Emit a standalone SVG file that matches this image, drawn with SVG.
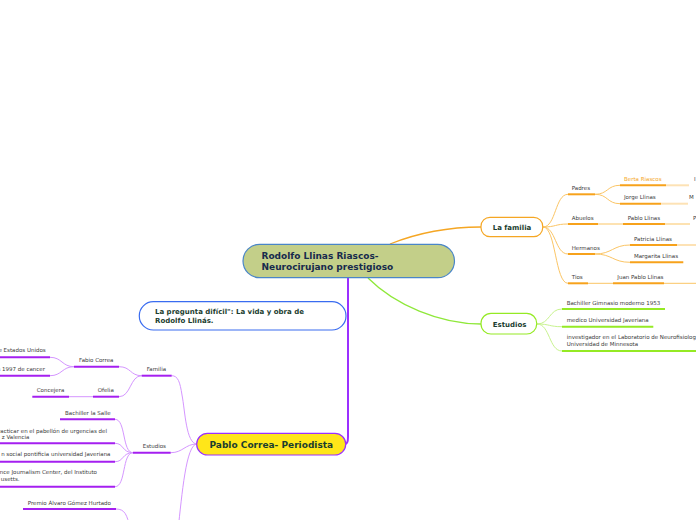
<svg xmlns="http://www.w3.org/2000/svg" width="696" height="520" viewBox="0 0 696 520">
<style>
.lbl{font-family:"DejaVu Sans",Verdana,sans-serif;font-size:5.5px;fill:#3a3a3a}
.bt{font-family:"DejaVu Sans",Verdana,sans-serif;font-weight:bold;fill:#1b3d2f}
.c{fill:none}
.oc{stroke:#fbc565;stroke-width:1}
.ou{stroke:#f7a21b;stroke-width:2}
.ol{stroke:#fde2b5;stroke-width:2}
.gc{stroke:#c8f38e;stroke-width:1}
.gu{stroke:#95ea24;stroke-width:2}
.pc{stroke:#d596ff;stroke-width:1}
.pu{stroke:#a51ff0;stroke-width:2}
</style>
<rect width="696" height="520" fill="#fff"/>
<g id="connectors" class="c">
<path d="M390 244 C420 232 450 227 481 227" stroke="#f5a623" stroke-width="1.3"/>
<path d="M368 278 C395 305 440 324 481 324" stroke="#8fe83a" stroke-width="1.3"/>
<path d="M348 278 L348 437 Q348 444 345 444" stroke="#9b30ff" stroke-width="2"/>
<!-- La familia -->
<path class="oc" d="M543 227 C556 227 555 194.3 568 194.3"/>
<path class="oc" d="M543 227 C556 227 555 224 568 224"/>
<path class="oc" d="M543 227 C556 227 555 254 568 254"/>
<path class="oc" d="M543 227 C556 227 555 283.3 568 283.3"/>
<path class="oc" d="M595 194.3 C608 194.3 607 185.3 620 185.3"/>
<path class="oc" d="M595 194.3 C608 194.3 607 203.7 620 203.7"/>
<path class="oc" d="M598 224 L623 224"/>
<path class="oc" d="M595 254 C612 254 613 245 630 245"/>
<path class="oc" d="M595 254 C612 254 613 262.3 630 262.3"/>
<path class="oc" d="M588 283.3 L613 283.3"/>
<path class="ol" d="M666 185.3 L689 185.3"/>
<path class="ol" d="M661 203.7 L688 203.7"/>
<path class="oc" d="M665 224 L690 224"/>
<path class="ol" d="M677 245 L696 245"/>
<path class="oc" d="M664 283.3 L696 283.3"/>
<!-- Estudios right -->
<path class="gc" d="M537 324 C550 324 549 309 562 309"/>
<path class="gc" d="M537 324 C550 324 549 326.7 562 326.7"/>
<path class="gc" d="M537 324 C550 324 549 351 562 351"/>
<!-- Pablo Correa -->
<path class="pc" d="M197 444 C186 444 185 410 182 395 C180 382 178 375.7 171.7 375.7"/>
<path class="pc" d="M197 444 C185 444 183 452.7 170.7 452.7"/>
<path class="pc" d="M197 444 C186 444 182 495 178 530"/>
<path class="pc" d="M141.7 375.7 C130 375.7 131 366.7 119 366.7"/>
<path class="pc" d="M141.7 375.7 C130 375.7 131 396.7 119 396.7"/>
<path class="pc" d="M74 366.7 C62 366.7 62 357.3 50 357.3"/>
<path class="pc" d="M74 366.7 C62 366.7 62 375.7 50 375.7"/>
<path class="pc" d="M93 396.7 L69 396.7"/>
<path class="pc" d="M133 452.7 C122 452.7 126 419.3 115 419.3"/>
<path class="pc" d="M133 452.7 C122 452.7 124 443.3 115 443.3"/>
<path class="pc" d="M133 452.7 C122 452.7 124 461.7 115 461.7"/>
<path class="pc" d="M133 452.7 C122 452.7 126 486.7 115 486.7"/>
<path class="pc" d="M116 509 C125 509 127 515 130 528"/>
</g>
<g id="central">
<rect x="243" y="244.3" width="211.5" height="33.4" rx="16.7" fill="#c3cf89" stroke="#4a86c8" stroke-width="1.2"/>
<text class="bt" x="261.5" y="259.3" font-size="9" fill="#172a4d" style="fill:#172a4d">Rodolfo Llinas Riascos-</text>
<text class="bt" x="261.5" y="270.3" font-size="9" style="fill:#172a4d">Neurocirujano prestigioso</text>
</g>
<g id="pregunta">
<rect x="139.3" y="301.7" width="206.7" height="28.3" rx="14" fill="#fff" stroke="#3a6cf0" stroke-width="1.2"/>
<text class="bt" x="155" y="313.5" font-size="7">La pregunta difícil": La vida y obra de</text>
<text class="bt" x="155" y="322.8" font-size="7">Rodolfo Llinás.</text>
</g>
<g id="familia">
<rect x="481" y="217.3" width="61.7" height="19.4" rx="9" fill="#fff" stroke="#f5a623" stroke-width="1.2"/>
<text class="bt" x="492.7" y="229.5" font-size="7">La familia</text>
</g>
<g id="padres"><path class="c ou" d="M568 194.3 L595 194.3"/><text class="lbl" x="571.7" y="190">Padres</text></g>
<g id="berta"><path class="c ou" d="M620 185.3 L666 185.3"/><text class="lbl" x="624" y="181" style="fill:#f5a623">Berta Riascos</text><text class="lbl" x="694" y="181">I</text></g>
<g id="jorge"><path class="c ou" d="M620 203.7 L661 203.7"/><text class="lbl" x="624" y="199.3">Jorge Llinas</text><text class="lbl" x="689" y="199.3">M</text></g>
<g id="abuelos"><path class="c ou" d="M568 224 L598 224"/><text class="lbl" x="571.7" y="219.5">Abuelos</text></g>
<g id="pablollinas"><path class="c ou" d="M623 224 L665 224"/><text class="lbl" x="627.7" y="219.5">Pablo Llinas</text><text class="lbl" x="693" y="219.5">P</text></g>
<g id="hermanos"><path class="c ou" d="M568 254 L595 254"/><text class="lbl" x="571.7" y="249.5">Hermanos</text></g>
<g id="patricia"><path class="c ou" d="M630 245 L677 245"/><text class="lbl" x="634" y="240.5">Patricia Llinas</text></g>
<g id="margarita"><path class="c ou" d="M630 262.3 L683.3 262.3"/><text class="lbl" x="634" y="258.3">Margarita Llinas</text></g>
<g id="tios"><path class="c ou" d="M568 283.3 L588 283.3"/><text class="lbl" x="571.7" y="278.5">Tios</text></g>
<g id="juanpablo"><path class="c ou" d="M613 283.3 L664 283.3"/><text class="lbl" x="617.3" y="278.5">Juan Pablo Llinas</text></g>
<g id="estudios-r">
<rect x="481" y="313.3" width="55.7" height="20.7" rx="10" fill="#fff" stroke="#95ea24" stroke-width="1.2"/>
<text class="bt" x="492.7" y="326.7" font-size="7">Estudios</text>
</g>
<g id="bachiller-g"><path class="c gu" d="M562 309 L665 309"/><text class="lbl" x="566.7" y="304.5">Bachiller Gimnasio moderno 1953</text></g>
<g id="medico"><path class="c gu" d="M562 326.7 L653.3 326.7"/><text class="lbl" x="566.7" y="322.3">medico Universidad Javeriana</text></g>
<g id="investigador"><path class="c gu" d="M562 351 L696 351"/><text class="lbl" x="566.7" y="339">investigador en el Laboratorio de Neurofisiologia</text><text class="lbl" x="566.7" y="345.5">Universidad de Minnesota</text></g>
<g id="pablo">
<rect x="196.7" y="433.3" width="149" height="21.7" rx="10.8" fill="#ffe619" stroke="#9b30ff" stroke-width="1.2"/>
<text class="bt" x="209.5" y="447.5" font-size="9">Pablo Correa- Periodista</text>
</g>
<g id="familia-l"><path class="c pu" d="M141.7 375.7 L171.7 375.7"/><text class="lbl" x="146.7" y="370.5">Familia</text></g>
<g id="fabio"><path class="c pu" d="M74 366.7 L119 366.7"/><text class="lbl" x="79" y="361.5">Fabio Correa</text></g>
<g id="f1"><path class="c pu" d="M0 357.3 L50 357.3"/><text class="lbl" x="45.7" y="352.3" text-anchor="end">e Estados Unidos</text></g>
<g id="f2"><path class="c pu" d="M0 375.7 L50 375.7"/><text class="lbl" x="45" y="370.5" text-anchor="end">s 1997 de cancer</text></g>
<g id="ofelia"><path class="c pu" d="M93 396.7 L119 396.7"/><text class="lbl" x="97.7" y="391.7">Ofelia</text></g>
<g id="concejera"><path class="c pu" d="M32.3 396.7 L69 396.7"/><text class="lbl" x="36.7" y="391.7">Concejera</text></g>
<g id="estudios-l"><path class="c pu" d="M133 452.7 L170.7 452.7"/><text class="lbl" x="142.7" y="447.5">Estudios</text></g>
<g id="salle"><path class="c pu" d="M60 419.3 L115 419.3"/><text class="lbl" x="65" y="414.5">Bachiller la Salle</text></g>
<g id="practicar"><path class="c pu" d="M0 443.3 L115 443.3"/><text class="lbl" x="107" y="432.5" text-anchor="end">racticar en el pabellón de urgencias del</text><text class="lbl" x="29.5" y="439" text-anchor="end">z Valencia</text></g>
<g id="social"><path class="c pu" d="M0 461.7 L115 461.7"/><text class="lbl" x="110.5" y="456" text-anchor="end">n social pontificia universidad Javeriana</text></g>
<g id="journalism"><path class="c pu" d="M0 486.7 L115 486.7"/><text class="lbl" x="97" y="474" text-anchor="end">nce Journalism Center, del Instituto</text><text class="lbl" x="19.5" y="481" text-anchor="end">usetts.</text></g>
<g id="premio"><path class="c pu" d="M23 509 L116 509"/><text class="lbl" x="27.7" y="504.5">Premio Álvaro Gómez Hurtado</text></g>
<g id="premios"><text class="lbl" x="144" y="524.5">Premios</text></g>
</svg>
